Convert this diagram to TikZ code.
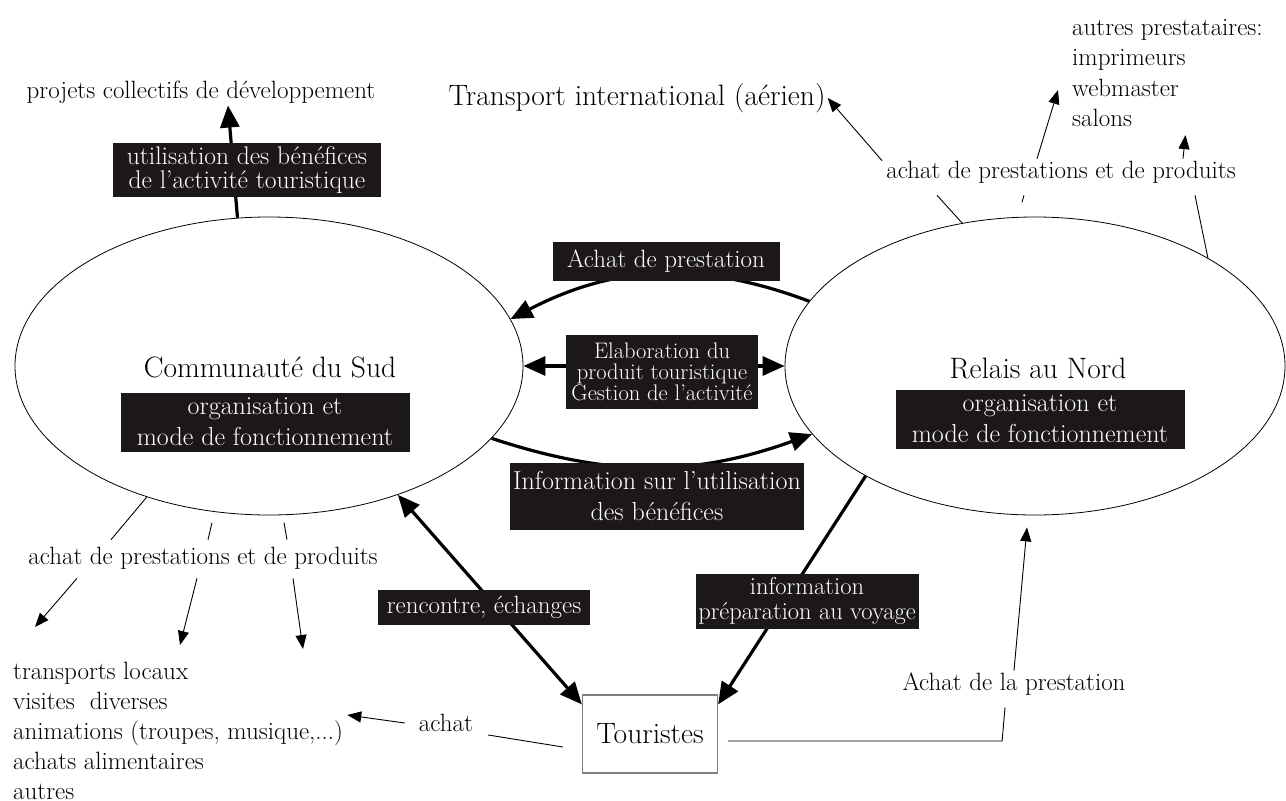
\documentclass[tikz,border=0pt]{standalone}
\usetikzlibrary{shapes.geometric,arrows.meta}
\definecolor{boxfill}{RGB}{28,24,24}
\begin{document}
\begin{tikzpicture}[x=1pt, y=-1pt,
	every node/.style={font=\fontsize{25}{30}\selectfont, inner sep=2pt},
	big/.style={font=\fontsize{29.5}{30}\selectfont},
	blackbox/.style={fill=boxfill, text=white, align=center, inner sep=1pt},
	partner/.style={draw, ellipse, line width=0.8pt, inner sep=0pt},
	fine/.style={line width=0.9pt},
	finearrow/.style={fine, -{Triangle[length=14pt,width=11pt]}},
	fat/.style={line width=3.2pt, -{Triangle[length=22pt,width=19pt]}},
	fatboth/.style={line width=3.2pt, {Triangle[length=22pt,width=19pt]}-{Triangle[length=22pt,width=19pt]}}]
		\useasboundingbox (0,0) rectangle (1286,801);
		%the two partners and the tourists
		\node[partner, minimum width=508pt, minimum height=298pt] (sud) at (269,366) {};
		\node[partner, minimum width=500pt, minimum height=298pt] (nord) at (1035,366) {};
		\node[big] (sudtitle) at (270,367) {Communauté du Sud};
		\node[big] (nordtitle) at (1038,368) {Relais au Nord};
		\node[blackbox, font=\fontsize{26}{31}\selectfont, minimum width=289pt, minimum height=59pt] (sudorg) at (265,422) {organisation et\\mode de fonctionnement};
		\node[blackbox, font=\fontsize{26}{31}\selectfont, minimum width=289pt, minimum height=59pt] (nordorg) at (1040,419) {organisation et\\mode de fonctionnement};
		\node[draw=gray, line width=1.2pt, big, minimum width=135pt, minimum height=78pt] (touristes) at (650,734) {Touristes};
		
		%top left
		\node (projets) at (201,92) {projets collectifs de développement};
		\draw[fat] (sud.102) -- ([xshift=27pt]projets.south);
		\node[blackbox, font=\fontsize{25.5}{24.5}\selectfont, minimum width=268pt, minimum height=54pt] (benef) at (247,170) {utilisation des bénéfices\\de l’activité touristique};
		
		%top right
		\node[big] (transport) at (637,98) {Transport international (aérien)};
		\node (achatN) at (1061,172) {achat de prestations et de produits};
		\node[align=left, font=\fontsize{25}{30.5}\selectfont, anchor=west] (autres) at (1070,73) {autres prestataires:\\imprimeurs\\webmaster\\salons};
		\draw[finearrow] ([shift={(-2pt,-2pt)}]achatN.north west) -- (transport.east);
		\draw[finearrow] ([xshift=-24pt]achatN.north) -- ([shift={(-12pt,-17pt)}]autres.west);
		\draw[finearrow] ([xshift=122pt]achatN.north) -- ([shift={(18pt,-6pt)}]autres.south);
		\draw[fine] ([shift={(-124pt,-10pt)}]achatN.south) -- (nord.117);
		\draw[fine] ([shift={(-37pt,-10pt)}]achatN.south) -- +(-2,7);
		\draw[fine] ([shift={(134pt,-10pt)}]achatN.south) -- (nord.32);
		
		%between the partners
		\draw[fatboth] (sud.east) -- (nord.west);
		\node[blackbox, font=\fontsize{22.5}{21}\selectfont, minimum width=192pt, minimum height=74pt] (elab) at (662,372) {Elaboration du\\produit touristique\\Gestion de l’activité};
		\draw[fat] (nord.164) to[bend right=24] (sud.11);
		\node[blackbox, minimum width=227pt, minimum height=39pt] (achatprest) at (666,261) {Achat de prestation};
		\draw[fat] (sud.-18) to[bend right=19] (nord.197);
		\node[blackbox, font=\fontsize{26}{31}\selectfont, minimum width=294pt, minimum height=67pt] (infobenef) at (657,496) {Information sur l’utilisation\\des bénéfices};
		
		%towards the tourists
		\draw[fatboth] (sud.-45) -- ([yshift=-10pt]touristes.north west);
		\node[blackbox, minimum width=212pt, minimum height=35pt] (rencontre) at (484,607) {rencontre, échanges};
		\draw[fat] (nord.213) -- ([yshift=-10pt]touristes.north east);
		\node[blackbox, font=\fontsize{24.5}{25}\selectfont, minimum width=223pt, minimum height=55pt] (infovoyage) at (807,601) {information\\préparation au voyage};
		
		%bottom left
		\node (achatS) at (203,558) {achat de prestations et de produits};
		\node[align=left, font=\fontsize{25}{30.2}\selectfont, anchor=west] (liste) at (11,731) {transports locaux\\visites\ \ diverses\\animations (troupes, musique,...)\\achats alimentaires\\autres};
		\draw[fine] (sud.227) -- ([shift={(-92pt,5pt)}]achatS.north);
		\draw[fine] ([shift={(5pt,5pt)}]achatS.north) -- +(4,-17);
		\draw[fine] ([shift={(84pt,5pt)}]achatS.north) -- +(-3,-17);
		\foreach \dx/\ex/\ey in {-126/35/627, -6/180/645, 90/303/649}{
			\draw[finearrow] ([shift={(\dx pt,-7pt)}]achatS.south) -- (\ex,\ey);
		}
		\node (achatT) at (446,723) {achat};
		\draw[finearrow] ([xshift=-12pt]achatT.west) -- ([shift={(2pt,16pt)}]liste.east);
		\draw[fine] ([shift={(-19pt,-13pt)}]touristes.west) -- ([shift={(13pt,-12pt)}]achatT.east);
		
		%bottom right
		\node (achatP) at (1014,684) {Achat de la prestation};
		\draw[fine] ([shift={(10pt,-7pt)}]touristes.east) -- ++(274,0) -- ([shift={(-9pt,-10pt)}]achatP.south);
		\draw[finearrow] (achatP.north) -- ([shift={(-8pt,-12pt)}]nord.south);
\end{tikzpicture}
\end{document}
